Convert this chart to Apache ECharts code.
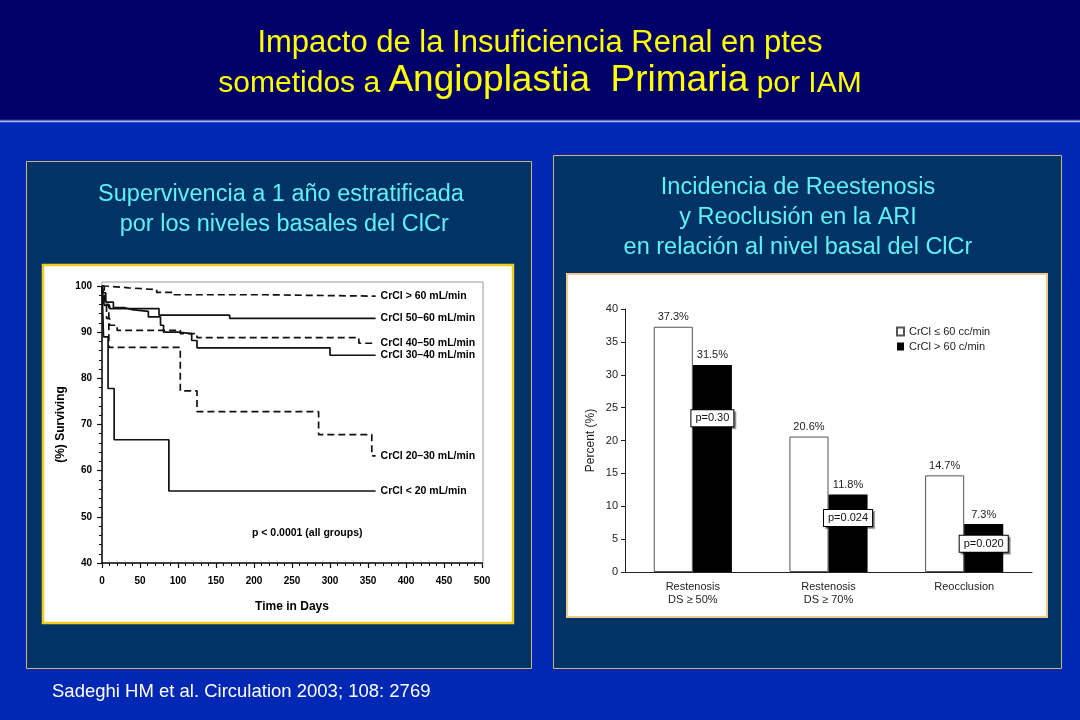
<!DOCTYPE html>
<html><head><meta charset="utf-8">
<script src="https://cdn.jsdelivr.net/npm/echarts@6/dist/echarts.min.js"></script>
<style>html,body{margin:0;padding:0;background:#0028b4}#c{width:1080px;height:720px}</style>
</head><body><div id="c"></div>
<script>
// ---------- Data: Kaplan-Meier survival (days, % surviving) ----------
const survivalNames = ['CrCl > 60 mL/min','CrCl 50–60 mL/min','CrCl 40–50 mL/min','CrCl 30–40 mL/min','CrCl 20–30 mL/min','CrCl < 20 mL/min'];
const crclOver60 = [[0,100],[5,99.6],[35,99.2],[72,98.6],[95,98.1],[215,97.8],[360,97.8]];
const crcl50to60 = [[0,100],[1,98],[3,95.8],[10,95.1],[75,93.7],[168,93],[360,93]];
const crcl40to50 = [[0,100],[2,96],[6,93],[10,91.5],[20,90.4],[103,89.7],[125,88.8],[338,87.6],[360,87.6]];
const crcl30to40 = [[0,100],[2,98.5],[5,96.5],[15,95.3],[30,94.9],[39,94.5],[61,93.3],[77,91.5],[81,90],[100,89.7],[118,88.2],[125,86.6],[300,85],[360,85]];
const crcl20to30 = [[0,100],[3,96],[9,86.7],[103,77.3],[125,72.8],[285,67.8],[355,63.2],[360,63.2]];
const crclUnder20 = [[0,100],[2,89],[8,77.8],[16,66.7],[88,55.6],[360,55.6]];
const survivalDashed = [true,false,true,false,true,false];
const pAllGroupsText = 'p < 0.0001 (all groups)';
const pAllGroupsAt = [270, 46.5];

// ---------- Data: restenosis / reocclusion bars ----------
const barCategories = ['Restenosis\nDS ≥ 50%','Restenosis\nDS ≥ 70%','Reocclusion'];
const barSeriesNames = ['CrCl ≤ 60 cc/min','CrCl > 60 c/min'];
const lowClearance = [37.3, 20.6, 14.7];
const highClearance = [31.5, 11.8, 7.3];
const pValueTexts = ['p=0.30','p=0.024','p=0.020'];
const pValueLevels = [23.4, 8.2, 4.3];

// ---------- Text ----------
const titleLine1 = 'Impacto de la Insuficiencia Renal en ptes';
const leftSubtitle = 'Supervivencia a 1 año estratificada\n por los niveles basales del ClCr';
const rightSubtitle = 'Incidencia de Reestenosis\ny Reoclusión en la ARI\nen relación al nivel basal del ClCr';
const citation = 'Sadeghi HM et al. Circulation 2003; 108: 2769';

const SANS = "'Liberation Sans', Arial, sans-serif";
const NARROW = "'Liberation Sans Narrow', 'Arial Narrow', 'Liberation Sans', sans-serif";

const survivalData = [crclOver60, crcl50to60, crcl40to50, crcl30to40, crcl20to30, crclUnder20];

const chart = echarts.init(document.getElementById('c'), null, {renderer:'canvas'});

const lineSeries = survivalData.map((d, i) => ({
  name: survivalNames[i],
  type: 'line',
  xAxisIndex: 0, yAxisIndex: 0,
  step: 'end',
  data: d,
  symbol: 'none', showSymbol: false,
  lineStyle: {color: '#111', width: 1.7, type: survivalDashed[i] ? [7,4] : 'solid'},
  endLabel: {show: true, formatter: survivalNames[i], color: '#000', fontWeight: 'bold', fontSize: 10.5, fontFamily: SANS, distance: 5},
  emphasis: {disabled: true},
  silent: true,
  z: 5,
  markPoint: i === 5 ? {
    symbol: 'rect', symbolSize: 0, silent: true,
    label: {show: true, position: 'inside', formatter: '{b}', color: '#000', fontWeight: 'bold', fontSize: 10.5, fontFamily: SANS},
    data: [{name: pAllGroupsText, coord: pAllGroupsAt}]
  } : undefined
}));

const shadow = {textShadowColor: '#000', textShadowOffsetX: 2, textShadowOffsetY: 2, textShadowBlur: 0};
const subStyle = {color:'#5ef2f6', fontSize:23.5, lineHeight:30, fontFamily:SANS, fontWeight:'normal', textShadowColor:'#001030', textShadowOffsetX:1.5, textShadowOffsetY:1.5, textShadowBlur:0};

const option = {
  animation: false,
  backgroundColor: '#0028b4',
  graphic: [
    {type:'rect', z:-10, silent:true, shape:{x:0,y:0,width:1080,height:119}, style:{fill:'#000068'}},
    {type:'rect', z:-10, silent:true, shape:{x:0,y:119,width:1080,height:1.5}, style:{fill:'#101a80'}},
    {type:'rect', z:-10, silent:true, shape:{x:0,y:120.5,width:1080,height:1.8}, style:{fill:'#a8bcff'}},
    {type:'rect', z:-9, silent:true, shape:{x:26.5,y:161.5,width:505,height:507}, style:{fill:'#003366', stroke:'#c8b870', lineWidth:1}},
    {type:'rect', z:-9, silent:true, shape:{x:553.5,y:155.5,width:508,height:513}, style:{fill:'#003366', stroke:'#c8b870', lineWidth:1}},
    {type:'rect', z:-8, silent:true, shape:{x:43,y:265,width:470,height:358}, style:{fill:'#ffffff', stroke:'#f2cc1a', lineWidth:2.5}},
    {type:'rect', z:-8, silent:true, shape:{x:567,y:274,width:480,height:343}, style:{fill:'#ffffff', stroke:'#f3c98a', lineWidth:2}},
    {type:'rect', z:-7, silent:true, shape:{x:102,y:282,width:381,height:281}, style:{fill:'none', stroke:'#9a9a9a', lineWidth:1}}
  ],
  title: [
    {text: titleLine1, left: 540, textAlign: 'center', top: 28, padding: 0,
     textStyle: Object.assign({color:'#ffff00', fontSize:31, fontFamily:SANS, fontWeight:'normal'}, shadow)},
    {text: '{s|sometidos a }{b|Angioplastia  Primaria}{s| por IAM}', left: 540, textAlign: 'center', top: 61, padding: 0,
     textStyle: Object.assign({color:'#ffff00', fontSize:30, fontFamily:SANS, fontWeight:'normal',
       rich: {
         s: Object.assign({color:'#ffff00', fontSize:30, lineHeight:38, fontFamily:SANS, verticalAlign:'bottom'}, shadow),
         b: Object.assign({color:'#ffff00', fontSize:37, lineHeight:38, fontFamily:SANS, verticalAlign:'bottom'}, shadow)
       }}, shadow)},
    {text: leftSubtitle, left: 281, textAlign: 'center', top: 180, padding: 0, textStyle: subStyle},
    {text: rightSubtitle, left: 798, textAlign: 'center', top: 173, padding: 0, textStyle: subStyle},
    {text: citation, left: 52, top: 682, padding: 0,
     textStyle: {color:'#ffffff', fontSize:18.5, fontFamily:SANS, fontWeight:'normal', textShadowColor:'#000', textShadowOffsetX:1.5, textShadowOffsetY:1.5, textShadowBlur:0}}
  ],
  legend: {
    data: barSeriesNames, orient: 'vertical', left: 896, top: 326, itemWidth: 7, itemHeight: 8, itemGap: 4,
    icon: 'rect', selectedMode: false, padding: 0,
    textStyle: {fontSize: 11, fontFamily: NARROW, color: '#222'}
  },
  grid: [
    {left: 102, top: 286, width: 380, height: 277},
    {left: 625, top: 309, width: 407, height: 263}
  ],
  xAxis: [
    {gridIndex: 0, type: 'value', min: 0, max: 500, interval: 50,
     axisLine: {show: true, lineStyle: {color: '#111', width: 1.5}},
     axisTick: {show: true, length: 5, lineStyle: {color: '#111', width: 1.2}},
     minorTick: {show: true, splitNumber: 5, length: 3, lineStyle: {color: '#111', width: 1}},
     splitLine: {show: false}, minorSplitLine: {show: false},
     axisLabel: {color: '#000', fontWeight: 'bold', fontSize: 10, fontFamily: SANS, margin: 13},
     name: 'Time in Days', nameLocation: 'middle', nameGap: 38,
     nameTextStyle: {color: '#000', fontWeight: 'bold', fontSize: 12, fontFamily: SANS}},
    {gridIndex: 1, type: 'category', data: barCategories,
     axisLine: {show: true, lineStyle: {color: '#222', width: 1}},
     axisTick: {show: false},
     axisLabel: {color: '#222', fontSize: 11, fontFamily: NARROW, margin: 8, lineHeight: 13}}
  ],
  yAxis: [
    {gridIndex: 0, type: 'value', min: 40, max: 100, interval: 10,
     axisLine: {show: true, lineStyle: {color: '#111', width: 1.5}},
     axisTick: {show: true, length: 5, lineStyle: {color: '#111', width: 1.2}},
     minorTick: {show: true, splitNumber: 5, length: 3, lineStyle: {color: '#111', width: 1}},
     splitLine: {show: false}, minorSplitLine: {show: false},
     axisLabel: {color: '#000', fontWeight: 'bold', fontSize: 10, fontFamily: SANS, margin: 10},
     name: '(%) Surviving', nameLocation: 'middle', nameGap: 35,
     nameTextStyle: {color: '#000', fontWeight: 'bold', fontSize: 12, fontFamily: SANS}},
    {gridIndex: 1, type: 'value', min: 0, max: 40, interval: 5,
     axisLine: {show: true, lineStyle: {color: '#222', width: 1}},
     axisTick: {show: true, length: 4, lineStyle: {color: '#222'}},
     splitLine: {show: false},
     axisLabel: {color: '#222', fontSize: 11, fontFamily: NARROW, margin: 7},
     name: 'Percent (%)', nameLocation: 'middle', nameGap: 28,
     nameTextStyle: {color: '#222', fontSize: 12, fontFamily: NARROW}}
  ],
  series: lineSeries.concat([
    {name: barSeriesNames[0], type: 'bar', xAxisIndex: 1, yAxisIndex: 1, data: lowClearance,
     barWidth: '28.8%', barGap: '0%',
     itemStyle: {color: '#ffffff', borderColor: '#555', borderWidth: 1},
     label: {show: true, position: 'top', formatter: '{c}%', color: '#222', fontSize: 11, fontFamily: NARROW, distance: 4},
     emphasis: {disabled: true}, silent: true},
    {name: barSeriesNames[1], type: 'bar', xAxisIndex: 1, yAxisIndex: 1, data: highClearance,
     barWidth: '28.8%', barGap: '0%',
     itemStyle: {color: '#000000', borderColor: '#000', borderWidth: 0},
     label: {show: true, position: 'top', formatter: '{c}%', color: '#222', fontSize: 11, fontFamily: NARROW, distance: 4},
     emphasis: {disabled: true}, silent: true,
     markPoint: {
       symbol: 'rect', symbolSize: 0, silent: true,
       label: {show: true, position: 'inside', formatter: '{b}', color: '#111', fontSize: 11, fontFamily: NARROW,
         backgroundColor: '#fff', borderColor: '#000', borderWidth: 1, padding: [3,4,2,4],
         shadowColor: 'rgba(0,0,0,0.35)', shadowOffsetX: 2, shadowOffsetY: 2, shadowBlur: 0},
       data: pValueTexts.map((t, i) => ({name: t, coord: [i, pValueLevels[i]]}))
     }}
  ])
};
chart.setOption(option);
</script>
</body></html>
